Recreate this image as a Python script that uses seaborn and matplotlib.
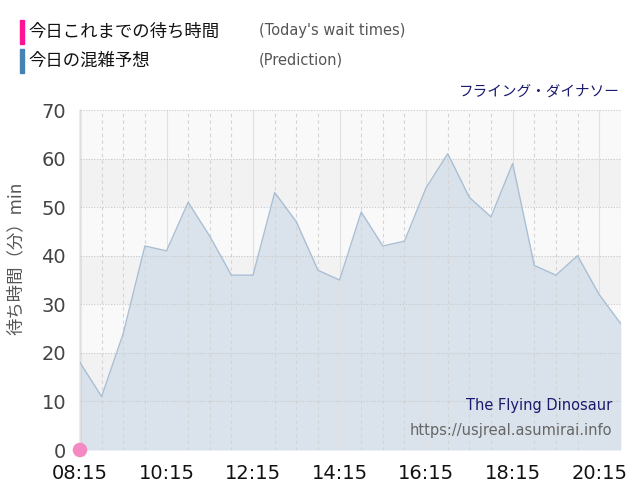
import matplotlib
matplotlib.use('Agg')
import seaborn as sns
import matplotlib.pyplot as plt
from matplotlib.ticker import MultipleLocator, FixedLocator
import pandas as pd

sns.set_style("white")
plt.rcParams['font.family'] = ['DejaVu Sans', 'Noto Sans CJK JP']

# prediction, every 30 min
times = ["08:15", "08:45", "09:15", "09:45", "10:15", "10:45", "11:15", "11:45",
         "12:15", "12:45", "13:15", "13:45", "14:15", "14:45", "15:15", "15:45",
         "16:15", "16:45", "17:15", "17:45", "18:15", "18:45", "19:15", "19:45",
         "20:15", "20:45"]
waits = [18, 11, 24, 42, 41, 51, 44, 36, 36, 53, 47, 37, 35, 49, 42, 43,
         54, 61, 52, 48, 59, 38, 36, 40, 32, 26]

# today's actual wait times so far
actual_times = ["08:15"]
actual_waits = [0]

tick_labels = ["08:15", "10:15", "12:15", "14:15", "16:15", "18:15", "20:15"]


def to_min(t):
    h, m = t.split(":")
    return int(h) * 60 + int(m)


df = pd.DataFrame({"t": [to_min(t) for t in times], "wait": waits})
df_act = pd.DataFrame({"t": [to_min(t) for t in actual_times], "wait": actual_waits})

fig = plt.figure(figsize=(6.4, 5), dpi=100)
ax = fig.add_axes([0.125, 0.1, 0.845, 0.68])

# alternating bands
for lo in range(0, 70, 10):
    ax.axhspan(lo, lo + 10, color="#f9f9f9" if (lo // 10) % 2 == 0 else "#f2f2f2", zorder=0, lw=0)

ax.fill_between(df["t"], df["wait"], color="#d5e0ea", alpha=0.85, zorder=2, lw=0)
sns.lineplot(data=df, x="t", y="wait", ax=ax, color="#a9bfd4", lw=1, zorder=3)
sns.scatterplot(data=df_act, x="t", y="wait", ax=ax, color="#f48ac4", s=110,
                edgecolor="none", zorder=5, clip_on=False)

x0, x1 = to_min("08:15"), to_min("20:45")
ax.set_xlim(x0, x1)
ax.set_ylim(0, 70)

ax.set_xticks([to_min(t) for t in tick_labels])
ax.set_xticklabels(tick_labels)
ax.xaxis.set_minor_locator(FixedLocator(list(df["t"])))
ax.yaxis.set_major_locator(MultipleLocator(10))

ax.grid(which="minor", axis="x", color="#d4d4d4", ls=(0, (3, 3)), lw=0.8)
ax.grid(which="major", axis="x", color="#e0e0e0", ls="-", lw=0.8)
ax.grid(which="major", axis="y", color="#c8c8c8", ls=(0, (1, 1.5)), lw=0.8)
for g in ax.get_xgridlines() + ax.get_ygridlines() + ax.xaxis.get_minorticklines():
    g.set_zorder(2.5)
ax.set_axisbelow(False)

for s in ["top", "right", "bottom"]:
    ax.spines[s].set_visible(False)
ax.spines["left"].set_color("#a0a0a0")
ax.spines["left"].set_linewidth(1)

ax.tick_params(axis="x", which="major", length=8, color="#dddddd", labelsize=14,
               labelcolor="#111111", pad=2)
ax.tick_params(axis="x", which="minor", length=0)
ax.tick_params(axis="y", length=8, color="#dddddd", labelsize=14, labelcolor="#444444", pad=2)

ax.set_xlabel("")
ax.set_ylabel("待ち時間（分）min", family=['Noto Sans CJK JP', 'DejaVu Sans'],
              fontsize=12.5, color="#555555")
ax.yaxis.set_label_coords(-0.103, 0.565)

# legend header
fig.patches.append(plt.Rectangle((20 / 640, 1 - 44 / 500), 4 / 640, 24 / 500,
                                 transform=fig.transFigure, color="#ff1493", figure=fig))
fig.patches.append(plt.Rectangle((20 / 640, 1 - 73 / 500), 4 / 640, 24 / 500,
                                 transform=fig.transFigure, color="#4682b4", figure=fig))
jp = ['Noto Sans CJK JP', 'DejaVu Sans']
fig.text(28 / 640, 1 - 32 / 500, "今日これまでの待ち時間", family=jp, fontsize=12.5,
         color="#111111", va="center")
fig.text(28 / 640, 1 - 61 / 500, "今日の混雑予想", family=jp, fontsize=12.5,
         color="#111111", va="center")
fig.text(259 / 640, 1 - 31 / 500, "(Today's wait times)", fontsize=10.5, color="#555555", va="center")
fig.text(259 / 640, 1 - 60 / 500, "(Prediction)", fontsize=10.5, color="#555555", va="center")

fig.text(620 / 640, 1 - 92 / 500, "フライング・ダイナソー", family=jp, fontsize=10.5,
         color="#1a1a6e", ha="right", va="center")

ax.text(0.984, 0.13, "The Flying Dinosaur", transform=ax.transAxes, ha="right",
        va="center", fontsize=10.5, color="#1a1a6e", zorder=6)
ax.text(0.984, 0.057, "https://usjreal.asumirai.info", transform=ax.transAxes, ha="right",
        va="center", fontsize=10.5, color="#666666", zorder=6)

fig.savefig("out.png", dpi=100)
